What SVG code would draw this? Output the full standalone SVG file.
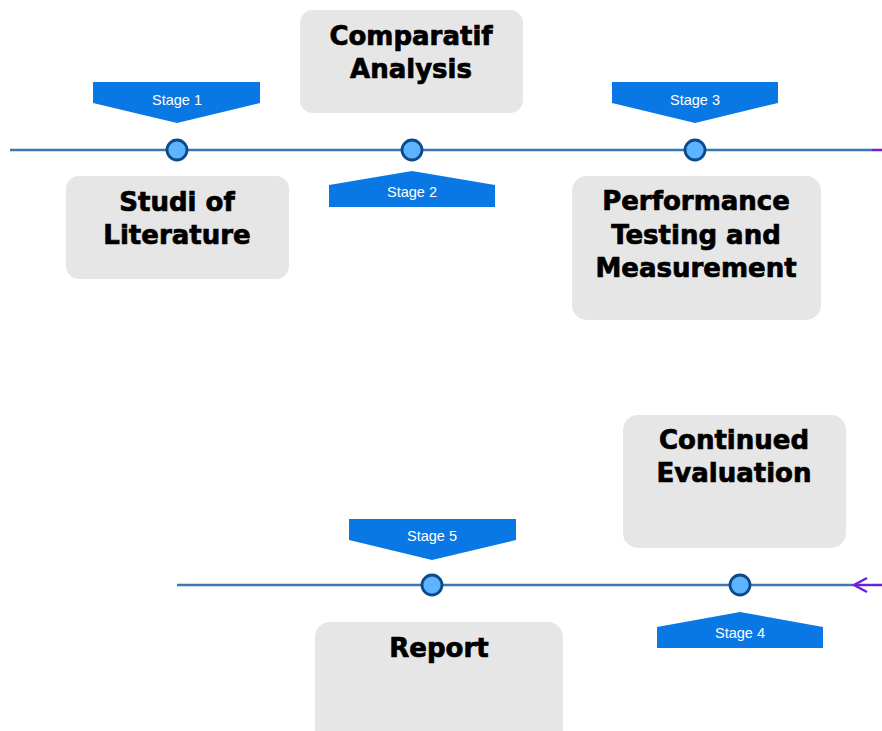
<svg xmlns="http://www.w3.org/2000/svg" width="882" height="731" viewBox="0 0 882 731">
<style>
.box{fill:#e6e6e6}
.bt{font-family:"DejaVu Sans",sans-serif;font-weight:bold;font-size:26px;fill:#000;stroke:#000;stroke-width:0.7;text-anchor:middle}
.ban{fill:#0a78e4}
.st{font-family:"Liberation Sans",Arial,sans-serif;font-size:14.5px;fill:#fff;text-anchor:middle}
.tl{stroke:#3b76b5;stroke-width:2.5;fill:none}
.dot{fill:#5fb4ff;stroke:#0d4a8c;stroke-width:2.8}
.pu{stroke:#6a22d6;stroke-width:2.5;fill:none}
</style>
<rect width="882" height="731" fill="#fff"/>
<g id="connectors">
<line class="tl" x1="10" y1="150" x2="872" y2="150"/>
<line class="pu" x1="872" y1="150" x2="882" y2="150"/>
<line class="tl" x1="177" y1="585" x2="853" y2="585"/>
<line class="pu" x1="882" y1="585" x2="855" y2="585"/>
<polyline class="pu" points="867,578 854,585 867,592"/>
</g>
<g id="stage1">
<polygon class="ban" points="93,82 260,82 260,103 177,123 93,103"/>
<text class="st" x="177" y="105">Stage 1</text>
<circle class="dot" cx="177" cy="150" r="10"/>
</g>
<g id="stage2">
<polygon class="ban" points="412,171 495,185 495,207 329,207 329,185"/>
<text class="st" x="412" y="197">Stage 2</text>
<circle class="dot" cx="412" cy="150" r="10"/>
</g>
<g id="stage3">
<polygon class="ban" points="612,82 778,82 778,103 695,123 612,103"/>
<text class="st" x="695" y="105">Stage 3</text>
<circle class="dot" cx="695" cy="150" r="10"/>
</g>
<g id="stage4">
<polygon class="ban" points="740,612 823,627 823,648 657,648 657,627"/>
<text class="st" x="740" y="638">Stage 4</text>
<circle class="dot" cx="740" cy="585" r="10"/>
</g>
<g id="stage5">
<polygon class="ban" points="349,519 516,519 516,540 432,560 349,540"/>
<text class="st" x="432" y="541">Stage 5</text>
<circle class="dot" cx="432" cy="585" r="10"/>
</g>
<g id="box-comparatif">
<rect class="box" x="300" y="10" width="223" height="103" rx="13"/>
<text class="bt" x="411" y="45">Comparatif</text>
<text class="bt" x="411" y="78">Analysis</text>
</g>
<g id="box-studi">
<rect class="box" x="66" y="176" width="223" height="103" rx="13"/>
<text class="bt" x="177" y="211">Studi of</text>
<text class="bt" x="177" y="244">Literature</text>
</g>
<g id="box-performance">
<rect class="box" x="572" y="176" width="249" height="144" rx="15"/>
<text class="bt" x="696" y="210">Performance</text>
<text class="bt" x="696" y="244">Testing and</text>
<text class="bt" x="696" y="277">Measurement</text>
</g>
<g id="box-continued">
<rect class="box" x="623" y="415" width="223" height="133" rx="15"/>
<text class="bt" x="734" y="449">Continued</text>
<text class="bt" x="734" y="482">Evaluation</text>
</g>
<g id="box-report">
<rect class="box" x="315" y="622" width="248" height="130" rx="15"/>
<text class="bt" x="439" y="657">Report</text>
</g>
</svg>
